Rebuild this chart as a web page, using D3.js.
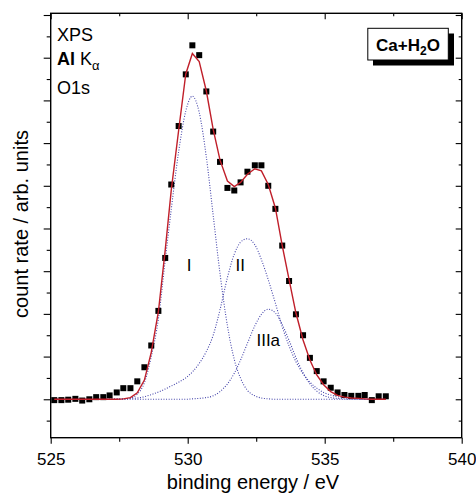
<!DOCTYPE html>
<html><head><meta charset="utf-8">
<script src="https://cdn.jsdelivr.net/npm/d3@7"></script>
<style>
html,body{margin:0;padding:0;background:#fff;}
svg{display:block;font-family:"Liberation Sans",Arial,sans-serif;}
</style></head>
<body><svg id="c" width="476" height="495"></svg>
<script>
// ---- data ----
const energy = [525.13,525.39,525.64,525.90,526.15,526.41,526.66,526.92,527.15,527.41,527.65,527.91,528.16,528.42,528.67,528.93,529.18,529.40,529.67,529.93,530.17,530.42,530.68,530.93,531.18,531.45,531.70,531.93,532.18,532.45,532.69,532.94,533.20,533.45,533.70,533.95,534.21,534.46,534.71,534.96,535.22,535.47,535.72,535.97,536.23,536.46,536.72,536.97,537.23];
const counts = [-0.02,-0.02,-0.01,0.01,-0.03,0.00,0.05,0.05,0.09,0.16,0.26,0.26,0.42,0.75,1.26,2.07,3.31,5.03,6.40,7.61,8.29,8.06,7.21,6.27,5.56,4.95,4.89,5.08,5.33,5.48,5.48,5.00,4.46,3.60,2.77,1.99,1.50,0.97,0.66,0.42,0.27,0.16,0.10,0.08,0.08,0.10,-0.02,0.07,0.07];
const fitSum = [0,0,0,0,0,0,0,0,0,0,0.01,0.04,0.15,0.45,1.10,2.05,3.50,4.90,6.30,7.62,8.10,7.91,7.22,6.32,5.60,5.11,4.98,5.08,5.27,5.40,5.35,5.03,4.48,3.60,2.80,2.02,1.39,0.92,0.57,0.34,0.18,0.09,0.05,0.03,0.02,0.01,0,0,0];
const peakI = [0,0,0,0,0,0,0,0,0,0,0.01,0.03,0.12,0.39,1.00,1.88,3.26,4.45,5.80,6.75,7.10,6.72,5.67,4.31,2.94,1.72,0.93,0.49,0.21,0.08,0.03,0.01,0,0,0,0,0,0,0,0,0,0,0,0,0,0,0,0,0];
const peakII = [0,0,0,0,0,0,0,0,0,0.01,0.01,0.02,0.03,0.06,0.11,0.17,0.24,0.31,0.40,0.50,0.64,0.84,1.12,1.50,2.10,2.85,3.40,3.68,3.76,3.62,3.27,2.80,2.25,1.70,1.25,0.88,0.60,0.40,0.26,0.16,0.10,0.06,0.04,0.02,0.01,0,0,0,0];
const peakIIIa = [0,0,0,0,0,0,0,0,0,0,0,0,0,0,0,0,0,0,0,0,0.01,0.02,0.04,0.08,0.18,0.36,0.61,0.92,1.31,1.72,1.99,2.11,2.02,1.75,1.38,0.98,0.62,0.36,0.19,0.09,0.04,0.02,0.01,0,0,0,0,0,0];
const peakLabels = ["I","II","IIIa"];
const peakLabelPos = [[530.05,3.0],[531.92,3.0],[532.94,1.25]];
const xMajor = [525,530,535,540];
const xMinor = [527.5,532.5,537.5];
const yMajor = [0,1,2,3,4,5,6,7,8,9];
const yMinor = [-0.5,0.5,1.5,2.5,3.5,4.5,5.5,6.5,7.5,8.5];
const xDomain = [525,540];
const yDomain = [-0.9,9.04];

// ---- drawing ----
const svg = d3.select("#c");
const L=50.7, R=461.7, T=13.3, B=437.7;
const x = d3.scaleLinear().domain(xDomain).range([L,R]);
const y = d3.scaleLinear().domain(yDomain).range([B,T]);

function axis(gen, tr, vals, size, labels){
  const g = svg.append("g").attr("transform",tr)
    .call(gen.tickValues(vals).tickSize(size).tickPadding(9)
      .tickFormat(labels ? d3.format("d") : ()=>""));
  g.select(".domain").remove();
  g.selectAll(".tick line").attr("stroke","#000").attr("stroke-width",1.1);
  g.selectAll(".tick text").attr("font-size",17).attr("fill","#000")
    .attr("font-family","Liberation Sans, Arial, sans-serif");
  return g;
}
axis(d3.axisBottom(x), `translate(0,${B})`, xMajor, 6, true);
axis(d3.axisBottom(x), `translate(0,${B})`, xMinor, 4, false);
axis(d3.axisTop(x), `translate(0,${T})`, xMajor, -6, false);
axis(d3.axisTop(x), `translate(0,${T})`, xMinor, -3, false);
axis(d3.axisLeft(y), `translate(${L},0)`, yMajor, 7, false);
axis(d3.axisLeft(y), `translate(${L},0)`, yMinor, 4, false);
axis(d3.axisRight(y), `translate(${R},0)`, yMajor, -6, false);
axis(d3.axisRight(y), `translate(${R},0)`, yMinor, -3, false);

svg.append("rect").attr("x",L).attr("y",T).attr("width",R-L).attr("height",B-T)
  .attr("fill","none").attr("stroke","#000").attr("stroke-width",1.4);

// components
const comp = [peakI, peakII, peakIIIa];
const cline = d3.line().curve(d3.curveMonotoneX).x((d,i)=>x(energy[i])).y(d=>y(d));
comp.forEach(arr=>{
  svg.append("path").attr("d",cline(arr)).attr("fill","none")
    .attr("stroke","#4444aa").attr("stroke-width",1.1).attr("stroke-dasharray","1,1.6");
});

// data markers
svg.append("g").selectAll("rect").data(counts).join("rect")
  .attr("x",(d,i)=>x(energy[i])-3).attr("y",d=>y(d)-3)
  .attr("width",6).attr("height",6).attr("fill","#000");

// fit
const fline = d3.line().x((d,i)=>x(energy[i])).y(d=>y(d));
svg.append("path").attr("d",fline(fitSum)).attr("fill","none")
  .attr("stroke","#c01f2a").attr("stroke-width",1.4);

// peak labels
svg.append("g").selectAll("text").data(peakLabels).join("text")
  .attr("x",(d,i)=>x(peakLabelPos[i][0])).attr("y",(d,i)=>y(peakLabelPos[i][1]))
  .attr("text-anchor","middle").attr("font-size",17).text(d=>d);

// top-left annotations
const ann = svg.append("g").attr("font-size",18);
ann.append("text").attr("x",57).attr("y",41).text("XPS");
const t2 = ann.append("text").attr("x",57).attr("y",65);
t2.append("tspan").attr("font-weight","bold").text("Al");
t2.append("tspan").text(" K");
t2.append("tspan").attr("font-size",13).attr("dy",5).text("α");
ann.append("text").attr("x",57).attr("y",94).text("O1s");

// legend box
svg.append("rect").attr("x",373).attr("y",33.5).attr("width",81).attr("height",32).attr("fill","#000");
svg.append("rect").attr("x",367.8).attr("y",28.3).attr("width",80.5).attr("height",31.7)
  .attr("fill","#fff").attr("stroke","#000").attr("stroke-width",1);
const lt = svg.append("text").attr("x",408).attr("y",51).attr("text-anchor","middle")
  .attr("font-size",17).attr("font-weight","bold");
lt.append("tspan").text("Ca+H");
lt.append("tspan").attr("font-size",12).attr("dy",4).text("2");
lt.append("tspan").attr("dy",-4).text("O");

// axis titles
svg.append("text").attr("x",253).attr("y",489).attr("text-anchor","middle")
  .attr("font-size",20).text("binding energy / eV");
svg.append("text").attr("transform","translate(28,224) rotate(-90)")
  .attr("text-anchor","middle").attr("font-size",20).text("count rate / arb. units");
</script></body></html>
